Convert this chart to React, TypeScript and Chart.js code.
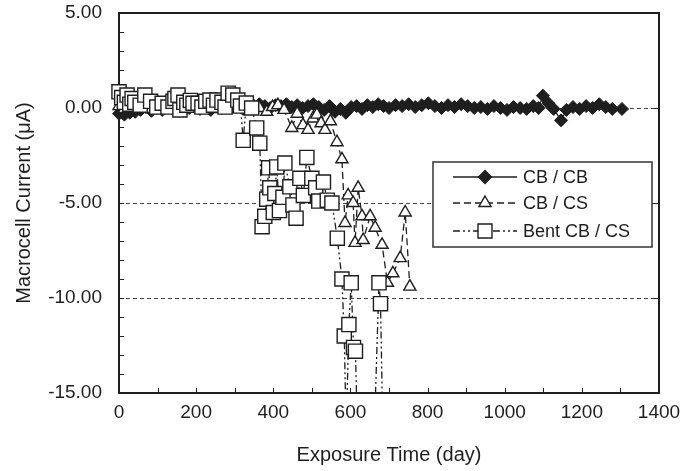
import React, { useEffect, useRef } from 'react';
import { Chart, registerables } from 'chart.js';

Chart.register(...registerables);

// ---- data ----
const cbcbDays = [0, 7, 14, 21, 28, 35, 42, 56, 70, 84, 98, 112, 126, 140, 154, 168, 182, 196, 210, 224, 238, 252, 266, 280, 294, 308, 322, 336, 350, 364, 378, 392, 406, 420, 434, 448, 462, 476, 490, 504, 518, 532, 546, 560, 574, 588, 602, 616, 630, 644, 658, 672, 686, 700, 717, 734, 751, 768, 785, 802, 819, 836, 853, 870, 887, 904, 921, 938, 955, 972, 989, 1006, 1023, 1040, 1057, 1074, 1088, 1099, 1113, 1127, 1146, 1160, 1177, 1194, 1211, 1228, 1245, 1262, 1279, 1304];
const cbcbValues = [-0.3, -0.15, -0.35, -0.05, -0.25, 0.05, -0.2, -0.1, 0.05, -0.15, 0.0, -0.1, 0.1, -0.05, 0.05, -0.15, 0.0, 0.1, -0.05, 0.05, -0.1, 0.1, 0.0, 0.15, 0.05, 0.1, -0.05, 0.15, 0.05, 0.2, 0.1, 0.0, 0.15, 0.1, 0.2, 0.05, 0.15, 0.0, 0.1, 0.2, 0.05, -0.1, 0.1, -0.2, -0.05, -0.25, 0.05, 0.1, -0.05, 0.15, 0.05, 0.2, 0.1, 0.0, 0.15, 0.1, 0.2, 0.05, 0.15, 0.25, 0.1, 0.0, 0.15, 0.05, 0.2, 0.1, 0.0, 0.05, -0.05, 0.1, 0.0, -0.1, 0.05, 0.0, -0.05, 0.1, 0.0, 0.65, 0.25, -0.05, -0.65, -0.1, 0.05, -0.05, 0.1, 0.0, 0.2, 0.05, -0.05, -0.05];

const cbcsDays = [0, 14, 28, 42, 56, 70, 84, 98, 112, 126, 140, 154, 168, 182, 196, 210, 224, 238, 252, 266, 280, 294, 308, 322, 336, 350, 364, 383, 398, 412, 428, 448, 462, 477, 490, 503, 513, 524, 534, 548, 565, 578, 586, 594, 607, 612, 620, 630, 633, 651, 664, 682, 696, 710, 729, 742, 754];
const cbcsValues = [0.1, -0.05, 0.05, 0.15, 0.0, 0.1, -0.05, 0.05, 0.1, 0.0, 0.05, -0.05, 0.1, 0.0, 0.05, 0.1, 0.0, 0.05, -0.05, 0.1, 0.05, 0.0, 0.1, 0.05, -0.05, 0.05, 0.0, -0.2, 0.05, 0.15, -0.1, -1.05, -0.3, -0.9, -1.15, -0.55, -0.35, -0.8, -1.15, -0.7, -1.8, -2.7, -6.05, -4.6, -5.0, -7.1, -4.2, -5.7, -6.95, -5.7, -6.3, -7.2, -9.2, -8.7, -7.9, -5.5, -9.4];

const bentDays = [0, 7, 14, 21, 28, 34, 41, 55, 67, 82, 98, 112, 127, 140, 145, 153, 158, 168, 176, 185, 192, 205, 215, 225, 236, 245, 254, 267, 275, 283, 295, 308, 315, 322, 330, 344, 357, 365, 371, 378, 383, 388, 391, 400, 404, 409, 416, 425, 430, 443, 451, 459, 469, 478, 487, 500, 510, 518, 530, 540, 552, 566, 578, 584, 589, 596, 602, 608, 613, 618, 662, 674, 678, 684];
const bentValues = [0.85, 0.55, 0.3, 0.68, 0.2, 0.5, 0.3, 0.15, 0.68, 0.35, 0.05, 0.25, 0.05, 0.35, 0.5, 0.68, -0.1, 0.3, 0.15, 0.4, 0.25, 0.25, 0.05, 0.35, 0.42, 0.15, 0.42, 0.3, 0.05, 0.78, 0.68, 0.42, 0.1, -1.7, 0.26, 0.0, -1.05, -1.85, -6.25, -5.7, -4.8, -3.15, -4.2, -5.5, -4.5, -3.1, -5.4, -4.7, -2.9, -4.15, -5.1, -5.8, -3.7, -4.6, -2.6, -3.7, -4.2, -4.9, -3.9, -4.85, -5.0, -6.85, -9.0, -12.0, -17.0, -11.4, -9.2, -12.6, -12.8, -17.0, -17.0, -9.2, -10.3, -17.0];

const seriesLabels = ['CB / CB', 'CB / CS', 'Bent CB / CS'];
const xTickValues = [0, 200, 400, 600, 800, 1000, 1200, 1400];
const yTickValues = [5, 0, -5, -10, -15];
const yGridValues = [0, -5, -10];

const FONT = 'Liberation Sans, Arial, Helvetica, sans-serif';
const INK = '#1e1e1e';

function toPoints(xs: number[], ys: number[]) {
  return xs.map((x, i) => ({ x, y: ys[i] }));
}

const frameAndTicks = {
  id: 'frameAndTicks',
  beforeDatasetsDraw(chart: any) {
    const { ctx, chartArea: a, scales } = chart;
    const xs = scales.x;
    const ys = scales.y;
    ctx.save();
    ctx.strokeStyle = INK;
    ctx.lineWidth = 1;
    ctx.beginPath();
    for (let v = 100; v < 1400; v += 100) {
      const px = Math.round(xs.getPixelForValue(v)) + 0.5;
      ctx.moveTo(px, a.bottom);
      ctx.lineTo(px, a.bottom - 5);
    }
    for (let v = -14; v < 5; v += 1) {
      const py = Math.round(ys.getPixelForValue(v)) + 0.5;
      ctx.moveTo(a.left, py);
      ctx.lineTo(a.left + 5, py);
    }
    for (const v of yGridValues) {
      const py = Math.round(ys.getPixelForValue(v)) + 0.5;
      ctx.moveTo(a.right, py);
      ctx.lineTo(a.right - 5, py);
    }
    ctx.stroke();
    ctx.lineWidth = 2;
    ctx.strokeRect(a.left, a.top, a.right - a.left, a.bottom - a.top);
    ctx.restore();
  },
};

function drawMarker(ctx: CanvasRenderingContext2D, kind: string, x: number, y: number) {
  ctx.save();
  ctx.lineWidth = 1.4;
  ctx.strokeStyle = INK;
  ctx.setLineDash([]);
  ctx.beginPath();
  if (kind === 'diamond') {
    const r = 6.5;
    ctx.moveTo(x - r, y);
    ctx.lineTo(x, y - r);
    ctx.lineTo(x + r, y);
    ctx.lineTo(x, y + r);
    ctx.closePath();
    ctx.fillStyle = INK;
  } else if (kind === 'triangle') {
    const r = 7;
    for (let k = 0; k < 3; k++) {
      const ang = (k * 2 * Math.PI) / 3;
      const px = x + Math.sin(ang) * r;
      const py = y - Math.cos(ang) * r;
      if (k === 0) ctx.moveTo(px, py);
      else ctx.lineTo(px, py);
    }
    ctx.closePath();
    ctx.fillStyle = '#fff';
  } else {
    const s = 7;
    ctx.rect(x - s, y - s, 2 * s, 2 * s);
    ctx.fillStyle = '#fff';
  }
  ctx.fill();
  ctx.stroke();
  ctx.restore();
}

const boxLegend = {
  id: 'boxLegend',
  afterDraw(chart: any) {
    const { ctx } = chart;
    const bx = 433;
    const by = 162;
    const bw = 219;
    const bh = 85;
    ctx.save();
    ctx.fillStyle = '#fff';
    ctx.fillRect(bx, by, bw, bh);
    ctx.strokeStyle = '#333';
    ctx.lineWidth = 1.5;
    ctx.strokeRect(bx, by, bw, bh);
    const kinds = ['diamond', 'triangle', 'square'];
    const dashes = [[], [7, 4], [7, 3, 2, 3, 2, 3]];
    const rowsY = [by + 15, by + 41, by + 69];
    for (let i = 0; i < 3; i++) {
      const y = rowsY[i];
      ctx.save();
      ctx.strokeStyle = INK;
      ctx.lineWidth = 1.4;
      ctx.setLineDash(dashes[i]);
      ctx.beginPath();
      ctx.moveTo(bx + 20, y);
      ctx.lineTo(bx + 84, y);
      ctx.stroke();
      ctx.restore();
      drawMarker(ctx, kinds[i], bx + 52, y);
      ctx.fillStyle = INK;
      ctx.font = `18px ${FONT}`;
      ctx.textBaseline = 'middle';
      ctx.textAlign = 'left';
      ctx.fillText(seriesLabels[i], bx + 90, y + 1);
    }
    ctx.restore();
  },
};

export default function App() {
  const ref = useRef<HTMLCanvasElement>(null);

  useEffect(() => {
    if (!ref.current) return;
    const clip = { left: 12, top: 12, right: 12, bottom: 0 };
    const chart = new Chart(ref.current, {
      type: 'scatter',
      data: {
        datasets: [
          {
            label: seriesLabels[2],
            data: toPoints(bentDays, bentValues),
            showLine: true,
            borderColor: INK,
            borderWidth: 1.3,
            borderDash: [7, 3, 2, 3, 2, 3],
            pointStyle: 'rect',
            pointRadius: 10,
            pointBorderWidth: 1.4,
            pointBackgroundColor: '#fff',
            pointBorderColor: INK,
            clip,
          } as any,
          {
            label: seriesLabels[1],
            data: toPoints(cbcsDays, cbcsValues),
            showLine: true,
            borderColor: INK,
            borderWidth: 1.3,
            borderDash: [7, 4],
            pointStyle: 'triangle',
            pointRadius: 7,
            pointBorderWidth: 1.4,
            pointBackgroundColor: '#fff',
            pointBorderColor: INK,
            clip,
          } as any,
          {
            label: seriesLabels[0],
            data: toPoints(cbcbDays, cbcbValues),
            showLine: true,
            borderColor: INK,
            borderWidth: 1.3,
            pointStyle: 'rectRot',
            pointRadius: 6.5,
            pointBorderWidth: 1,
            pointBackgroundColor: INK,
            pointBorderColor: INK,
            clip,
          } as any,
        ],
      },
      options: {
        animation: false,
        responsive: false,
        devicePixelRatio: 1,
        layout: { padding: { left: 0, right: 38, top: 13, bottom: 0 } },
        plugins: {
          legend: { display: false },
          tooltip: { enabled: false },
        },
        scales: {
          x: {
            type: 'linear',
            min: 0,
            max: 1400,
            afterBuildTicks: (s: any) => {
              s.ticks = xTickValues.map((v) => ({ value: v }));
            },
            ticks: {
              color: INK,
              font: { family: FONT, size: 19 },
              padding: 8,
              maxRotation: 0,
              autoSkip: false,
              callback: (v: any) => String(v),
            },
            grid: { display: false, drawTicks: false },
            border: { display: false },
            title: {
              display: true,
              text: 'Exposure Time (day)',
              color: INK,
              font: { family: FONT, size: 20 },
              padding: { top: 0, bottom: 4 },
            },
            afterFit: (s: any) => {
              s.height = 78;
              s.paddingLeft = 0;
              s.paddingRight = 0;
            },
          },
          y: {
            type: 'linear',
            min: -15,
            max: 5,
            afterBuildTicks: (s: any) => {
              s.ticks = yTickValues.map((v) => ({ value: v }));
            },
            ticks: {
              color: INK,
              font: { family: FONT, size: 19 },
              padding: 17,
              callback: (v: any) => Number(v).toFixed(2),
            },
            grid: {
              drawTicks: false,
              lineWidth: 1,
              color: (c: any) =>
                yGridValues.includes(c.tick && c.tick.value) ? '#444' : 'rgba(0,0,0,0)',
            },
            border: { display: false, dash: [4, 3] },
            title: {
              display: true,
              text: 'Macrocell Current (μA)',
              color: INK,
              font: { family: FONT, size: 20 },
              padding: { top: 12, bottom: 0 },
            },
            afterFit: (s: any) => {
              s.width = 119;
              s.paddingTop = 0;
              s.paddingBottom = 0;
            },
          },
        },
      },
      plugins: [frameAndTicks, boxLegend],
    });
    return () => chart.destroy();
  }, []);

  return (
    <div style={{ position: 'fixed', left: 0, top: 0, width: 697, height: 471, background: '#fff' }}>
      <canvas ref={ref} width={697} height={471} style={{ display: 'block' }} />
    </div>
  );
}
